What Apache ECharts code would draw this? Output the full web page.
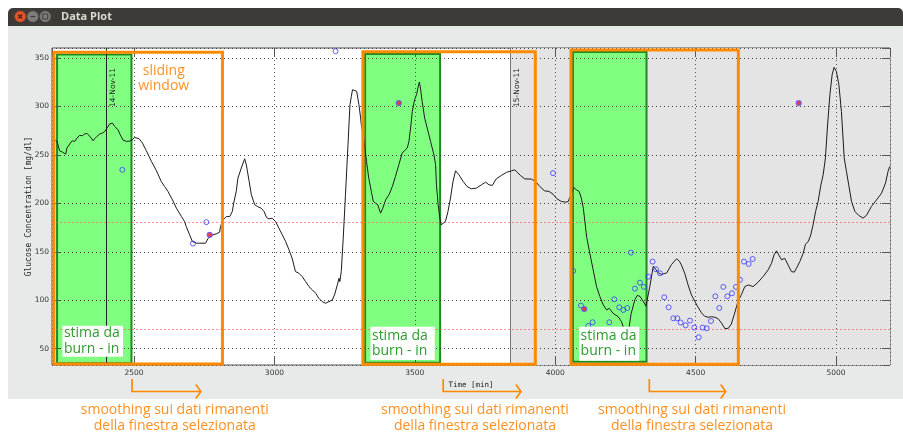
<!DOCTYPE html>
<html><head><meta charset="utf-8">
<script src="https://cdn.jsdelivr.net/npm/echarts@6/dist/echarts.min.js"></script>
<style>html,body{margin:0;padding:0;background:#fff;}#c{width:903px;height:435px;}</style>
</head><body><div id="c"></div>
<script>
// ---- data ----
const curve = [[2215,266],[2226,264],[2235,254.3],[2245,252.9],[2257,250.8],[2261,257],[2271,261.2],[2280,264.6],[2289,263.9],[2297,267.4],[2306,270.1],[2316,269.8],[2324,271.5],[2333,272.2],[2340,270.8],[2348,267.4],[2354,264.6],[2360,266.7],[2368,269.1],[2378,271.5],[2387,272.5],[2396,274.2],[2404,277.7],[2413,281.8],[2423,282.9],[2431,279.4],[2443,276],[2451,270.8],[2461,265.3],[2473,263.9],[2485,264.3],[2494,265.6],[2502,268],[2508,269.1],[2518,266.7],[2530,262.2],[2544,254.3],[2562,243.3],[2580,233.6],[2597,222.6],[2609,217.4],[2621,212.3],[2637,203.6],[2651,195],[2669,186.4],[2680,181.3],[2686,176.1],[2698,167.5],[2708,160.6],[2722,158.9],[2755,158.9],[2764,164],[2781,167.5],[2793,168.5],[2805,170.2],[2808,176.1],[2817,183],[2829,186.4],[2841,186.4],[2850,191.6],[2855,200.2],[2864,212.3],[2870,226],[2882,236.4],[2894,246],[2900,239.8],[2910,222.6],[2918,208.8],[2930,198.5],
[2939,196.8],[2953,195],[2963,191.6],[2972,185.4],[2980,184],[2992,184.7],[3004,181.3],[3016,174.4],[3028,167.5],[3040,160.6],[3052,152],[3063,143.4],[3075,129.6],[3087,127.9],[3099,124.4],[3111,119.3],[3123,114.1],[3135,110.7],[3147,107.2],[3158,102.1],[3170,98.6],[3182,96.9],[3194,98.6],[3206,100.3],[3214,105.5],[3224,115.8],[3230,122.7],[3233,119.3],[3238,129.6],[3245,164],[3253,208.8],[3262,260.5],[3269,301.8],[3274,310.4],[3278,317.3],[3285,319],[3293,315.6],[3301,301.8],[3307,288],[3309,281.8],[3319,265.6],[3322,257],[3328,243.3],[3336,226],[3345,212.3],[3352,202.1],[3360,200.2],[3368,198.5],[3378,189.9],[3386,195],[3396,203.6],[3408,208.8],[3420,217.4],[3431,227.7],[3443,239.8],[3455,251.9],[3463,254.3],[3473,257],[3479,263.9],[3485,277.7],[3491,294.9],[3499,307],[3506,312.1],[3511,319],[3516,325.2],[3520,319],[3526,305.2],[3535,288],[3544,277.7],[3556,263.9],[3568,250.1],[3574,239.8],[3577,219.1],[3583,198.5],[3589,184.7],[3594,177.8],[3601,176.1],[3609,181.3],[3618,191.6],[3627,205.4],[3636,222.6],[3645,233.6],[3657,229.5],[3672,222.6],
[3686,217.4],[3701,215],[3719,215.7],[3737,219.1],[3752,221.9],[3764,219.1],[3776,218.5],[3790,225.3],[3808,228.8],[3826,231.9],[3844,233.6],[3856,234.6],[3864,232.2],[3876,228.8],[3891,225.3],[3915,225],[3930,222.6],[3945,217.4],[3962,212.9],[3978,212.3],[3992,209.5],[4006,204.7],[4022,201.9],[4037,201.2],[4046,201.9],[4052,203.6],[4066,216.4],[4075,214],[4085,212.3],[4093,205.4],[4100,195],[4106,180],[4112,165],[4123,148.6],[4135,131.4],[4147,114.1],[4159,103.8],[4171,95.2],[4183,90],[4192,91.7],[4206,86.5],[4224,83.1],[4236,77.9],[4242,72.7],[4250,66],[4257,63],[4263,72],[4270,86],[4284,101],[4292,105],[4302,104],[4313,99],[4323,93.9],[4328,94],[4337,114.5],[4349,135.2],[4355,133.5],[4367,128.3],[4379,126.6],[4397,128.3],[4414,136.9],[4432,142.8],[4442,140.4],
[4449,136.5],[4461,127.9],[4473,115.8],[4485,105.5],[4497,99],[4506,94],[4521,87],[4532,83.5],[4544,82.5],[4556,83],[4568,82.5],[4580,81],[4592,76.5],[4604,70.8],[4616,71],[4627,75.5],[4639,86.8],[4645,93],[4651,99],[4663,106],[4675,114.1],[4687,115.8],[4705,114.1],[4722,118.6],[4740,124.4],[4758,131.3],[4770,138.2],[4779,146.8],[4788,151],[4796,146.8],[4806,141.7],[4817,143.4],[4829,136.5],[4841,129.6],[4851,129],[4859,133.1],[4871,140],[4883,148.6],[4891,157.9],[4901,160.6],[4910,167.5],[4918,177.8],[4927,191.6],[4936,201.9],[4946,219.1],[4954,229.5],[4962,246.7],[4969,277.7],[4978,312.1],[4986,332.8],[4993,340.4],[5001,336.2],[5010,322.5],[5019,294.9],[5029,246.7],[5037,232.9],[5045,219.1],[5055,201.9],[5067,191.6],[5081,187.5],[5096,184.7],[5108,187.5],[5126,196.8],[5144,203.6],[5162,210.5],[5176,220.9],[5185,232.9],[5191,238.1]];

const samples = [[2458.5,234.6],[2710,158.5],[2757.6,180.6],[3217.6,357],[3992,231.2],[4064,130.3],[4091.4,94.5],[4117.5,73.5],[4133,77.3],[4192.3,77.3],[4210.1,101],[4227.9,92.7],[4242.1,90],[4256.4,92],[4269.5,149.2],[4283.7,112],[4301.6,118.2],[4315.8,113.8],[4331.3,124.4],[4346.7,139.9],[4358.6,132],[4372.8,127.9],[4388.3,103.1],[4403.7,92.7],[4420.4,81.4],[4434.6,81.4],[4446.5,77],[4464.3,74.2],[4479.8,79],[4495.2,71.8],[4510.6,61.8],[4524.9,71.8],[4539.1,71.1],[4554.5,78.6],[4570,104.1],[4584.2,92],[4598.5,113.8],[4612.7,104.1],[4629.3,107.2],[4643.6,113.8],[4657.8,121.1],[4672,139.9],[4688.7,137.5],[4703,142.6]];

const calibration = [[2769.5,167.5],[3443,303.5],[4103.3,91],[4867,303.5]];

const thresholds = [180, 70];
const dayLines = [2400, 3840];
const dayLabels = ['14-Nov-11', '15-Nov-11'];
const nightStart = 3840;

// burn-in (green) windows: [x0, x1, yLow, yHigh]
const burnIn = [[2226,2491,34.9,353.7],[3323,3590,35.5,354.1],[4063,4325,36.6,356.2]];
// sliding windows (orange)
const windows = [[2215,2815,34.2,355.8],[3315,3929,33.9,356.5],[4056,4652,34,358.3]];
// label boxes "stima da burn - in"
const burnLabelBoxes = [[2245,2461,41.7,73.8],[3342,3571,38.3,72.7],[4085,4299,37.6,72.7]];
const burnLabel = 'stima da\nburn - in';
const slidingLabel = 'sliding\nwindow';
const slidingLabelAt = [2606, 328.4];
// arrows + notes below the axis
const arrowStart = [2493, 3601, 4335];
const arrowEnd = [2738, 3878, 4607];
const noteX = [2645, 3714, 4487];
const noteText = 'smoothing sui dati rimanenti\ndella finestra selezionata';

const X_MIN = 2208, X_MAX = 5192, Y_MIN = 33.2, Y_MAX = 360.3;
const ORANGE = '#ff8a00', ORANGE_TXT = '#ff9124', GREEN_TXT = '#2f9a2f';
const AX = '#555';

const chart = echarts.init(document.getElementById('c'));
const rect = (r, style) => [{xAxis: r[0], yAxis: r[3], itemStyle: style}, {xAxis: r[1], yAxis: r[2]}];
const plain = v => String(v);

const option = {
  animation: false,
  backgroundColor: 'transparent',
  textStyle: {fontFamily: 'DejaVu Sans'},
  grid: {left: 52, top: 48, width: 838, height: 317, show: true, backgroundColor: '#fff', borderColor: AX, borderWidth: 1},
  xAxis: [{
    type: 'value', min: X_MIN, max: X_MAX, splitNumber: 6, position: 'bottom', z: 3,
    name: 'Time [min]', nameLocation: 'middle', nameGap: 16, nameMoveOverlap: false,
    nameTextStyle: {fontSize: 7.5, color: '#222', fontFamily: 'DejaVu Sans Mono'},
    axisLine: {show: false},
    axisTick: {inside: true, length: 8, lineStyle: {color: AX}},
    axisLabel: {fontSize: 7.5, color: '#333', margin: 4, showMinLabel: false, showMaxLabel: false, formatter: plain},
    splitLine: {show: true, lineStyle: {type: [1, 3], color: '#555'}}
  }, {
    type: 'value', min: X_MIN, max: X_MAX, splitNumber: 6, position: 'top', z: 3,
    axisLine: {show: false}, axisTick: {inside: true, length: 8, lineStyle: {color: AX}},
    axisLabel: {show: false}, splitLine: {show: false}
  }],
  yAxis: [{
    type: 'value', min: Y_MIN, max: Y_MAX, splitNumber: 7, position: 'left', z: 3,
    name: 'Glucose Concentration [mg/dl]', nameLocation: 'middle', nameGap: 19, nameMoveOverlap: false,
    nameTextStyle: {fontSize: 8, color: '#222', fontFamily: 'DejaVu Sans Mono'},
    axisLine: {show: false},
    axisTick: {inside: true, length: 8, lineStyle: {color: AX}},
    axisLabel: {fontSize: 7.5, color: '#333', margin: 3, showMinLabel: false, showMaxLabel: false, formatter: plain},
    splitLine: {show: true, lineStyle: {type: [1, 3], color: '#444'}}
  }, {
    type: 'value', min: Y_MIN, max: Y_MAX, splitNumber: 7, position: 'right', z: 3,
    axisLine: {show: false}, axisTick: {inside: true, length: 8, lineStyle: {color: AX}},
    axisLabel: {show: false}, splitLine: {show: false}
  }],
  series: [{
    type: 'line', data: curve, symbol: 'none', silent: true, z: 4,
    lineStyle: {color: '#1c1c1c', width: 1},
    markArea: {
      silent: true, z: 1, label: {show: false},
      data: [[{xAxis: nightStart, itemStyle: {color: '#e4e4e4'}}, {xAxis: X_MAX}]]
        .concat(burnIn.map(r => rect(r, {color: '#80ff80', borderColor: '#1f8a1f', borderWidth: 2})))
    },
    markLine: {
      silent: true, z: 3, symbol: ['none', 'none'], label: {show: false},
      data: thresholds.map(t => ({yAxis: t, lineStyle: {color: '#ff4d4d', opacity: 0.6, type: [2, 2], width: 1}}))
        .concat(dayLines.map((d, i) => ({xAxis: d, lineStyle: {color: i === 0 ? '#222' : '#777', type: 'solid', width: 1}})))
    }
  }, {
    type: 'scatter', data: samples, symbol: 'circle', symbolSize: 5, silent: true, z: 5,
    itemStyle: {color: 'rgba(0,0,0,0)', borderColor: '#3b3bff', borderWidth: 1},
    markArea: {
      silent: true, z: 6, label: {show: false},
      data: windows.map(r => rect(r, {color: 'rgba(0,0,0,0)', borderColor: ORANGE, borderWidth: 3}))
    }
  }, {
    type: 'scatter', data: calibration, symbol: 'circle', symbolSize: 5, silent: true, z: 5,
    itemStyle: {color: '#ff1010', borderColor: '#5a5aff', borderWidth: 1.2},
    markArea: {
      silent: true, z: 7,
      label: {show: true, position: 'insideLeft', distance: 1.5, formatter: burnLabel, color: GREEN_TXT,
        fontSize: 14, fontFamily: 'Open Sans', lineHeight: 15.5, align: 'left'},
      data: burnLabelBoxes.map(r => rect(r, {color: '#fff', borderWidth: 0}))
    },
    markPoint: {
      silent: true, z: 7, symbol: 'circle', symbolSize: 1, itemStyle: {color: 'rgba(0,0,0,0)'},
      label: {show: true, position: 'inside', formatter: slidingLabel, color: ORANGE_TXT, fontSize: 14,
        fontFamily: 'Open Sans', lineHeight: 15},
      data: [{coord: slidingLabelAt}]
    }
  }]
};
chart.setOption(option);

const px = v => chart.convertToPixel({xAxisIndex: 0}, v);
const g = [
  {type: 'rect', shape: {x: 8, y: 26, width: 895, height: 373}, style: {fill: '#e7eae9'}, z: -10, silent: true},
  {type: 'rect', shape: {x: 8, y: 8, width: 895, height: 18, r: [5, 5, 0, 0]}, style: {fill: '#3c3b37'}, z: -9, silent: true},
  {type: 'circle', shape: {cx: 20.3, cy: 16.5, r: 5.5}, style: {fill: '#e5552d', stroke: '#b8401f', lineWidth: 0.6}, z: -8},
  {type: 'polyline', shape: {points: [[18.3, 14.5], [22.3, 18.5]]}, style: {stroke: '#4a2418', lineWidth: 1.3}, z: -7},
  {type: 'polyline', shape: {points: [[22.3, 14.5], [18.3, 18.5]]}, style: {stroke: '#4a2418', lineWidth: 1.3}, z: -7},
  {type: 'circle', shape: {cx: 32.8, cy: 16.5, r: 5.5}, style: {fill: '#7f7e79', stroke: '#5e5d59', lineWidth: 0.6}, z: -8},
  {type: 'polyline', shape: {points: [[30.3, 16.5], [35.3, 16.5]]}, style: {stroke: '#3c3b37', lineWidth: 1.2}, z: -7},
  {type: 'circle', shape: {cx: 45.3, cy: 16.5, r: 5.5}, style: {fill: '#7f7e79', stroke: '#5e5d59', lineWidth: 0.6}, z: -8},
  {type: 'rect', shape: {x: 42.8, y: 14, width: 5, height: 5}, style: {fill: 'none', stroke: '#3c3b37', lineWidth: 1}, z: -7},
  {type: 'text', x: 61, y: 16.5, style: {text: 'Data Plot', fill: '#dfdbd2', font: 'bold 11px "Open Sans"', verticalAlign: 'middle'}, z: -7}
];
arrowStart.forEach((s, i) => {
  const x0 = px(s), x1 = px(arrowEnd[i]);
  g.push({type: 'polyline', shape: {points: [[x0, 379], [x0, 391.5], [x1, 391.5]]}, style: {stroke: ORANGE, lineWidth: 1.7, fill: null}, z: 10});
  g.push({type: 'polyline', shape: {points: [[x1 - 5, 384.5], [x1, 391.5], [x1 - 5, 398.5]]}, style: {stroke: ORANGE, lineWidth: 1.7, fill: null}, z: 10});
  g.push({type: 'text', x: px(noteX[i]), y: 418, style: {text: noteText, fill: ORANGE_TXT, font: '14px "Open Sans"', align: 'center', verticalAlign: 'middle', lineHeight: 16}, z: 10});
});
dayLines.forEach((d, i) => {
  g.push({type: 'text', x: px(d) + 7, y: 68, rotation: Math.PI / 2,
    style: {text: dayLabels[i], fill: '#222', font: '7.5px "DejaVu Sans"', align: 'right', verticalAlign: 'middle'}, z: 8});
});
chart.setOption({graphic: g});
</script></body></html>
